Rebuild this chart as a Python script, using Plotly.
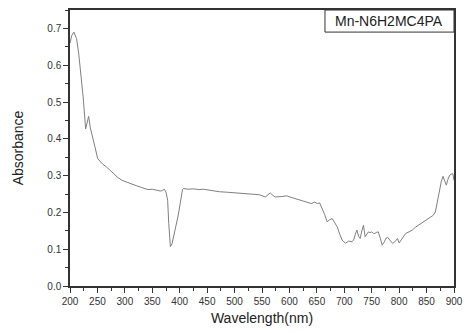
import plotly.graph_objects as go

wavelength = [200, 203, 207, 212, 216, 220, 224, 228.5, 231, 234, 237, 241.5, 246, 250.5, 255, 259, 266, 274, 280, 287,
              295, 304, 313, 322, 330, 342, 350, 358, 365, 369, 372, 375, 378, 380, 383, 386, 390, 393, 397, 401,
              405, 407, 415, 425, 435, 443, 450, 460, 473, 485, 495, 503, 515, 525, 533, 545, 556, 560, 565, 570,
              574, 585, 595, 605, 615, 622, 630, 640, 646, 651, 655, 660, 664, 669, 673, 678, 683, 687, 692, 696,
              702, 708, 714, 717, 720, 723, 726, 729, 732, 735, 738, 741, 744, 747, 750, 753, 756, 759, 762, 766,
              769, 773, 776, 779, 783, 788, 792, 797, 800, 804, 808, 812, 818, 824, 830, 836, 842, 848, 851, 856,
              862, 866, 870, 874, 877, 880, 883, 886, 889, 892, 895, 898, 900]
absorbance = [0.659, 0.680, 0.690, 0.672, 0.630, 0.575, 0.513, 0.427, 0.445, 0.461, 0.430, 0.405, 0.375, 0.346, 0.338, 0.332, 0.324, 0.314, 0.305, 0.295,
              0.287, 0.282, 0.278, 0.272, 0.268, 0.262, 0.263, 0.260, 0.258, 0.260, 0.263, 0.255, 0.233, 0.170, 0.107, 0.115, 0.140, 0.161, 0.190, 0.225,
              0.262, 0.265, 0.263, 0.264, 0.262, 0.263, 0.261, 0.258, 0.256, 0.255, 0.254, 0.253, 0.252, 0.251, 0.251, 0.248, 0.242, 0.246, 0.253, 0.246,
              0.242, 0.243, 0.245, 0.240, 0.236, 0.233, 0.230, 0.224, 0.228, 0.224, 0.226, 0.211, 0.195, 0.174, 0.180, 0.183, 0.170, 0.161, 0.140, 0.125,
              0.116, 0.122, 0.120, 0.125, 0.140, 0.152, 0.135, 0.129, 0.150, 0.165, 0.134, 0.140, 0.147, 0.145, 0.147, 0.143, 0.143, 0.146, 0.147, 0.128,
              0.111, 0.120, 0.130, 0.132, 0.125, 0.116, 0.120, 0.129, 0.117, 0.125, 0.135, 0.143, 0.147, 0.152, 0.160, 0.166, 0.174, 0.178, 0.183, 0.188,
              0.192, 0.201, 0.235, 0.269, 0.285, 0.298, 0.285, 0.274, 0.290, 0.301, 0.304, 0.305, 0.287]

x_ticks = list(range(200, 901, 50))
y_ticks = [0.0, 0.1, 0.2, 0.3, 0.4, 0.5, 0.6, 0.7]
label_text = "Mn-N6H2MC4PA"

fig = go.Figure()
fig.add_trace(go.Scatter(x=wavelength, y=absorbance, mode="lines",
                         line=dict(color="#808080", width=1), showlegend=False))

axis_common = dict(showgrid=False, zeroline=False, showline=True, linecolor="#333333", linewidth=1.5,
                   mirror=True, ticks="outside", ticklen=5, tickwidth=1, tickcolor="#333333",
                   tickfont=dict(family="Arial, Liberation Sans", size=10, color="#333333"))

fig.update_xaxes(range=[200, 900], tickvals=x_ticks, ticktext=[str(v) for v in x_ticks],
                 minor=dict(ticks="outside", ticklen=3, tickcolor="#333333", dtick=25, tick0=200),
                 title=dict(text="Wavelength(nm)", font=dict(family="Arial, Liberation Sans", size=14, color="#222222"), standoff=7),
                 **axis_common)
fig.update_yaxes(range=[0, 0.75], tickvals=y_ticks, ticktext=[f"{v:.1f}" for v in y_ticks],
                 minor=dict(ticks="outside", ticklen=3, tickcolor="#333333", dtick=0.05, tick0=0),
                 title=dict(text="Absorbance", font=dict(family="Arial, Liberation Sans", size=14, color="#222222"), standoff=20),
                 **axis_common)

fig.add_shape(type="rect", xref="paper", yref="paper", x0=0.664, x1=1.0, y0=0.920, y1=1.0,
              line=dict(color="#333333", width=1), fillcolor="white")
fig.add_annotation(xref="paper", yref="paper", x=0.832, y=0.960, text=label_text, showarrow=False,
                   font=dict(family="Arial, Liberation Sans", size=14, color="#222222"),
                   xanchor="center", yanchor="middle")

fig.update_layout(width=470, height=333, margin=dict(l=70, r=7, t=10, b=47),
                  plot_bgcolor="white", paper_bgcolor="white")

fig.write_html("out.html")
